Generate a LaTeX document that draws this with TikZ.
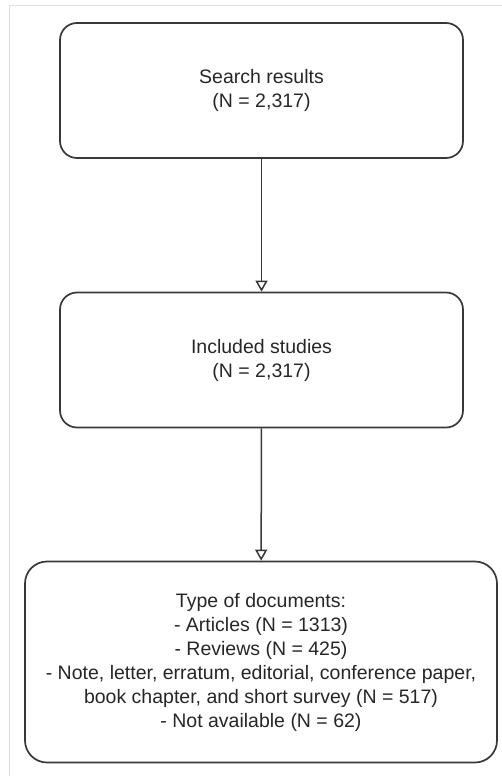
\documentclass[tikz,border=0pt]{standalone}
\usepackage{fontspec}
\setmainfont{Liberation Sans}
\usetikzlibrary{arrows.meta}

\begin{document}
\begin{tikzpicture}[x=1pt, y=-1pt,
  stage/.style={draw=black!78, line width=1.7pt, rounded corners=17pt, align=center,
    minimum width=403pt, minimum height=135pt, inner sep=0pt,
    font=\fontsize{19.5}{24}\selectfont, text=black!85},
  flow/.style={draw=black!78, line width=1.5pt, -{Triangle[open,width=12pt,length=11pt]}}]
\useasboundingbox (0,0) rectangle (502,776);
% light frame
\draw[black!12, line width=1pt] (502,6) -- (9,6) -- (9,776);
% boxes
\node[stage] (search) at (261.5,90.5) {Search results\\(N = 2,317)};
\node[stage] (included) at (261.5,360) {Included studies\\(N = 2,317)};
\node[stage, minimum width=472pt, minimum height=201pt, rounded corners=22pt] (types) at (261,662)
  {Type of documents:\\- Articles (N = 1313)\\- Reviews (N = 425)\\- Note, letter, erratum, editorial, conference paper,\\book chapter, and short survey (N = 517)\\- Not available (N = 62)};
% arrows
\draw[flow] (search) -- (included);
\draw[flow] (included) -- (types);
\end{tikzpicture}
\end{document}
